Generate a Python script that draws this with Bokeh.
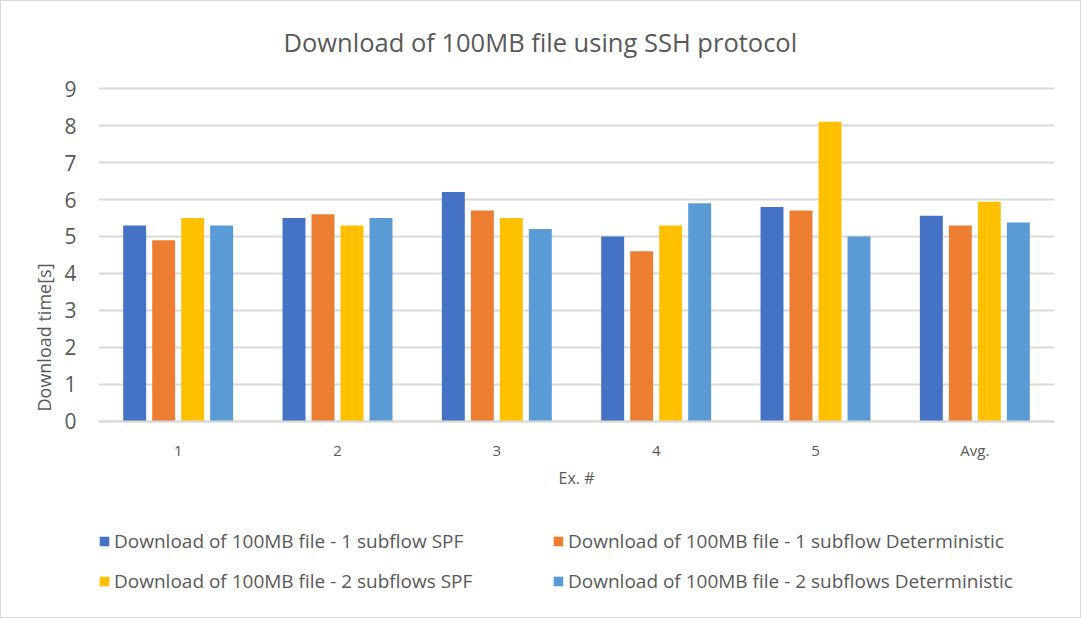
from bokeh.plotting import figure
from bokeh.models import FactorRange, Range1d, Legend, LegendItem, ColumnDataSource, SingleIntervalTicker, Title
from bokeh.transform import dodge
from bokeh.embed import file_html
from bokeh.resources import INLINE

categories = ["1", "2", "3", "4", "5", "Avg."]
spf_1 = [5.3, 5.5, 6.2, 5.0, 5.8, 5.56]
det_1 = [4.9, 5.6, 5.7, 4.6, 5.7, 5.3]
spf_2 = [5.5, 5.3, 5.5, 5.3, 8.1, 5.94]
det_2 = [5.3, 5.5, 5.2, 5.9, 5.0, 5.38]
series_names = [
    "Download of 100MB file - 1 subflow SPF",
    "Download of 100MB file - 1 subflow Deterministic",
    "Download of 100MB file - 2 subflows SPF",
    "Download of 100MB file - 2 subflows Deterministic",
]
colors = ["#4472C4", "#ED7D31", "#FFC000", "#5B9BD5"]
y_ticks_range = (0, 9)

src = ColumnDataSource(dict(cat=categories, s1=spf_1, s2=det_1, s3=spf_2, s4=det_2))

FONT = "Open Sans"
TXT = "#595959"

# the frame extends below the value axis so the legend can live inside it
p = figure(width=1081, height=618, x_range=FactorRange(factors=categories),
           y_range=Range1d(-5.19, 9.73), output_backend="svg", toolbar_location=None,
           min_border_left=97, min_border_right=28, min_border_top=60, min_border_bottom=6)
p.styles = {"border": "1px solid #d9d9d9", "box-sizing": "border-box"}

offsets = [-0.273, -0.091, 0.091, 0.273]
renderers = []
for key, off, col in zip(["s1", "s2", "s3", "s4"], offsets, colors):
    r = p.vbar(x=dodge("cat", off, range=p.x_range), top=key, width=0.144, bottom=0,
               source=src, fill_color=col, line_color=None)
    renderers.append(r)

p.title = Title(text="Download of 100MB file using SSH protocol", align="left",
                text_font=FONT, text_font_size="25.5px", text_font_style="normal",
                text_color=TXT, standoff=6, offset=185)
p.outline_line_color = None

p.yaxis.ticker = SingleIntervalTicker(interval=1)
p.yaxis.bounds = y_ticks_range
p.yaxis.axis_line_color = None
p.yaxis.major_tick_line_color = None
p.yaxis.minor_tick_line_color = None
p.yaxis.major_label_text_font = FONT
p.yaxis.major_label_text_font_size = "21px"
p.yaxis.major_label_text_color = TXT
p.yaxis.major_label_standoff = 16
p.yaxis.axis_label = "Download time[s]"
p.yaxis.axis_label_text_font = FONT
p.yaxis.axis_label_text_font_size = "18px"
p.yaxis.axis_label_text_font_style = "normal"
p.yaxis.axis_label_text_color = TXT
p.yaxis.axis_label_standoff = 5

p.xaxis.fixed_location = 0
p.xaxis.axis_line_color = "#d9d9d9"
p.xaxis.axis_line_width = 2
p.xaxis.major_tick_line_color = None
p.xaxis.minor_tick_line_color = None
p.xaxis.major_label_text_font = FONT
p.xaxis.major_label_text_font_size = "15px"
p.xaxis.major_label_text_color = TXT
p.xaxis.major_label_standoff = 13
p.xaxis.axis_label = "Ex. #"
p.xaxis.axis_label_text_font = FONT
p.xaxis.axis_label_text_font_size = "16px"
p.xaxis.axis_label_text_font_style = "normal"
p.xaxis.axis_label_text_color = TXT
p.xaxis.axis_label_standoff = 3

p.xgrid.grid_line_color = None
p.ygrid.bounds = y_ticks_range
p.ygrid.grid_line_color = "#d9d9d9"
p.ygrid.grid_line_width = 2

order = [0, 2, 1, 3]
items = [LegendItem(label=series_names[i], renderers=[renderers[i]]) for i in order]
legend = Legend(items=items, ncols=2, location=(0, 19),
                label_text_font=FONT, label_text_font_size="19px", label_text_color=TXT,
                glyph_width=12, glyph_height=12, label_standoff=4, spacing=14,
                label_height=22, label_width=424, padding=0, margin=0,
                border_line_color=None, background_fill_alpha=0)
p.add_layout(legend, "center")

open("out.html", "w").write(file_html(p, INLINE))
